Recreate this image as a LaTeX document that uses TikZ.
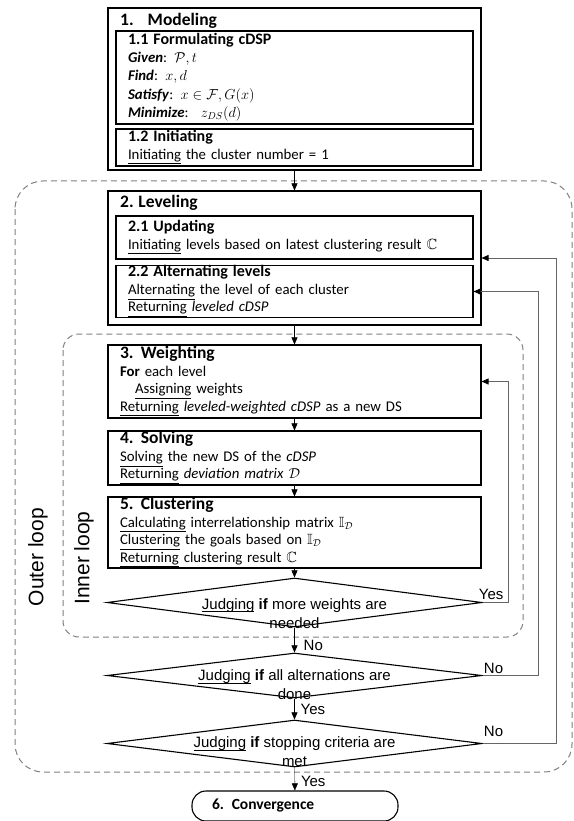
\documentclass[tikz,border=0pt]{standalone}
\usepackage{amssymb}
\usepackage{fontspec}
\setmainfont{Carlito}[WordSpace=0.85]
\newfontfamily\arialfont{Liberation Sans}
\usetikzlibrary{arrows.meta,shapes.geometric}
\tikzset{>={Triangle[length=7pt,width=6pt]}}
\tikzset{
  stage/.style={draw, line width=1.1pt, inner sep=0pt},
  body/.style={align=left, inner xsep=12pt, font=\fontsize{14.8}{17.5}\selectfont},
  check/.style={draw, diamond, line width=1.1pt, inner sep=0pt,
                minimum width=375pt},
  asktext/.style={align=center, inner sep=0pt,
                  font=\arialfont\fontsize{15}{19}\selectfont},
  answer/.style={inner sep=1pt, font=\arialfont\fontsize{15}{17}\selectfont},
  feedback/.style={draw=black!60, line width=0.8pt,
                   -{Triangle[length=7pt,width=6pt,color=black]}},
  loopbox/.style={draw=black!50, dash pattern=on 6pt off 4pt, line width=1pt},
  looplabel/.style={rotate=90, font=\arialfont\fontsize{21}{24}\selectfont}
}
\newcommand{\stagetitle}[1]{{\bfseries\fontsize{17.5}{20}\selectfont #1}}
\newcommand{\subtitle}[1]{{\bfseries\fontsize{16}{18}\selectfont #1}}
% underline drawn as a rule, so it stays visible
\newcommand{\underword}[1]{\setbox0\hbox{#1}\rlap{\rule[-2.8pt]{\wd0}{0.8pt}}\box0\relax}

\begin{document}
\begin{tikzpicture}[x=1pt,y=-1pt]
\useasboundingbox (0,0) rectangle (573,821);

% outer and inner loops
\draw[loopbox, rounded corners=28pt] (15,181) rectangle (572,772);
\draw[loopbox, rounded corners=16pt] (63,334) rectangle (523,637);
\node[looplabel] (outerlabel) at (38,557) {Outer loop};
\node[looplabel] (innerlabel) at (84,558) {Inner loop};

% 1. modeling
\node[stage, minimum width=373pt, minimum height=162pt] (model) at (294.5,89) {};
\node[anchor=west, inner sep=0pt] (modeltitle) at (120,21)
  {\stagetitle{1.\hspace{14pt}Modeling}};
\node[stage, body, text width=333pt, minimum height=93pt] (form) at (294.5,77.5)
  {\subtitle{1.1 Formulating cDSP}\\
   \textbf{\textit{Given}}: $\mathcal{P}, t$\\[1pt]
   \textbf{\textit{Find}}: $x, d$\\[1pt]
   \textbf{\textit{Satisfy}}: $x \in \mathcal{F}, G(x)$\\[1pt]
   \textbf{\textit{Minimize}}: \ $z_{DS}(d)$};
\node[stage, body, text width=333pt, minimum height=37pt] (init) at (294.5,147.5)
  {\subtitle{1.2 Initiating}\\
   \underline{Initiating} the cluster number = 1};

% 2. leveling
\node[stage, minimum width=373pt, minimum height=134pt] (level) at (294.5,258) {};
\node[anchor=west, inner sep=0pt] (leveltitle) at (120,203)
  {\stagetitle{2. Leveling}};
\node[stage, body, text width=333pt, minimum height=43pt] (update) at (294.5,237.5)
  {\subtitle{2.1 Updating}\\
   \underline{Initiating} levels based on latest clustering result $\mathbb{C}$};
\node[stage, body, text width=333pt, minimum height=51pt] (alter) at (294.5,291.5)
  {\subtitle{2.2 Alternating levels}\\
   \underline{Alternating} the level of each cluster\\
   \underline{Returning} \textit{leveled cDSP}};

% 3.--5. inner steps
\node[stage, body, text width=349pt, minimum height=73pt] (weight) at (294.5,381.5)
  {\stagetitle{3. Weighting}\\
   \textbf{For} each level\\
   \hspace*{15pt}\underline{Assigning} weights\\
   \underline{Returning} \textit{leveled-weighted cDSP} as a new DS};
\node[stage, body, text width=349pt, minimum height=54pt] (solve) at (294.5,458)
  {\stagetitle{4. Solving}\\
   \underline{Solving} the new DS of the \textit{cDSP}\\
   \underline{Returning} \textit{deviation matrix} $\mathcal{D}$};
\node[stage, body, text width=349pt, minimum height=71pt] (cluster) at (294.5,532.5)
  {\stagetitle{5. Clustering}\\
   \underline{Calculating} interrelationship matrix $\mathbb{I}_{\mathcal{D}}$\\
   \underline{Clustering} the goals based on $\mathbb{I}_{\mathcal{D}}$\\
   \underline{Returning} clustering result $\mathbb{C}$};

% decisions
\node[check, minimum height=49pt] (more) at (294.5,602.5) {};
\node[asktext] (moretext) at (294.5,613.5)
  {\underword{Judging} \textbf{if} more weights are\\ needed};
\node[check, minimum height=45pt] (done) at (294.5,675.5) {};
\node[asktext] (donetext) at (294.5,685)
  {\underword{Judging} \textbf{if} all alternations are\\ done};
\node[check, minimum height=47pt] (stop) at (294.5,743.5) {};
\node[asktext] (stoptext) at (294.5,752)
  {\underword{Judging} \textbf{if} stopping criteria are\\ met};

\node[stage, rounded corners=14pt, minimum width=206pt, minimum height=30pt,
      text width=166pt, inner xsep=20pt, align=left,
      font=\bfseries\fontsize{15.5}{17}\selectfont] (conv) at (295,806)
  {6. Convergence};

% main flow
\draw[->] (model) -- (level);
\draw[->] (level) -- (weight);
\draw[->] (weight) -- (solve);
\draw[->] (solve) -- (cluster);
\draw[->] (cluster) -- (more);
\draw[->] (more) -- node[answer, pos=0.7, right, xshift=8pt] {No} (done);
\draw[->] (done) -- node[answer, midway, right, xshift=5pt] {Yes} (stop);
\draw[->] (stop) -- node[answer, pos=0.6, right, xshift=5pt] {Yes} (conv);

% feedback
\draw[feedback] (more.east) node[answer, above right, xshift=-5pt, yshift=1pt] {Yes}
  -- ++(26,0) |- (weight.east);
\draw[feedback] (done.east) node[answer, above right, yshift=0pt] {No}
  -- ++(56,0) |- (alter.east);
\draw[feedback] (stop.east) node[answer, above right, yshift=5pt] {No}
  -- ++(74,0) |- (level.east);
\end{tikzpicture}
\end{document}
